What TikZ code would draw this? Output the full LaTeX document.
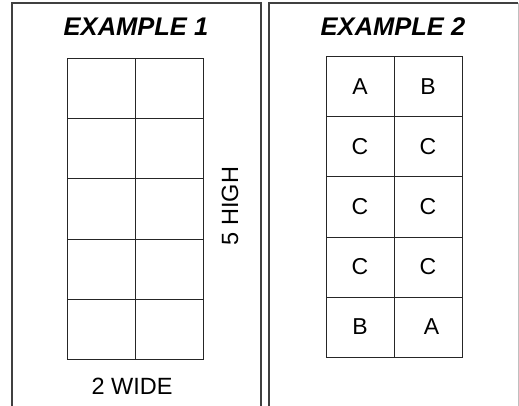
\documentclass[tikz,border=0pt]{standalone}
\usepackage{fontspec}
\setmainfont{Liberation Sans}
\usepackage{xcolor}
\usepackage{tikz}
\usetikzlibrary{positioning}

\tikzset{
    cell/.style={draw=black!85, line width=1pt, inner sep=0pt, outer sep=0pt,
                 minimum width=68pt, minimum height=60pt,
                 font=\fontsize{23}{25}\selectfont},
    panel/.style={draw=black!75, line width=1.4pt},
    heading/.style={font=\fontsize{25.5}{29}\selectfont\bfseries\itshape},
    caption/.style={font=\fontsize{23.5}{26}\selectfont}
}

\begin{document}
\begin{tikzpicture}[x=1pt,y=1pt]
                \useasboundingbox (0,0) rectangle (519,-406);

                % the two panels, open at the bottom
                \draw[panel] (12,-406) -- (12,-3) -- (261,-3) -- (261,-406);
                \draw[panel] (269,-406) -- (269,-3) -- (518,-3);
                \draw[draw=black!25, line width=1pt] (518,-3) -- (518,-406);

                \node[heading] (title1) at (136,-27) {EXAMPLE 1};
                \node[heading] (title2) at (393,-27) {EXAMPLE 2};

                % example 1: 2 wide, 5 high
                \node [cell] (l11) at (101,-89) {};
                \node [cell, right = 0pt of l11] (l12) {};
                \node [cell, below = 0pt of l11] (l21) {};
                \node [cell, right = 0pt of l21] (l22) {};
                \node [cell, below = 0pt of l21] (l31) {};
                \node [cell, right = 0pt of l31] (l32) {};
                \node [cell, below = 0pt of l31] (l41) {};
                \node [cell, right = 0pt of l41] (l42) {};
                \node [cell, below = 0pt of l41] (l51) {};
                \node [cell, right = 0pt of l51] (l52) {};

                \node[caption] (wide) at (132,-386) {2 WIDE};
                \node[caption, rotate=90] (high) at (230,-206) {5 HIGH};

                % example 2: same grid, lettered
                \node [cell] (r11) at (360,-87) {A};
                \node [cell, right = 0pt of r11] (r12) {B};
                \node [cell, below = 0pt of r11] (r21) {C};
                \node [cell, right = 0pt of r21] (r22) {C};
                \node [cell, below = 0pt of r21] (r31) {C};
                \node [cell, right = 0pt of r31] (r32) {C};
                \node [cell, below = 0pt of r31] (r41) {C};
                \node [cell, right = 0pt of r41] (r42) {C};
                \node [cell, below = 0pt of r41] (r51) {B};
                \node [cell, right = 0pt of r51] (r52) {\hspace{7pt}A};
            \end{tikzpicture}
\end{document}
